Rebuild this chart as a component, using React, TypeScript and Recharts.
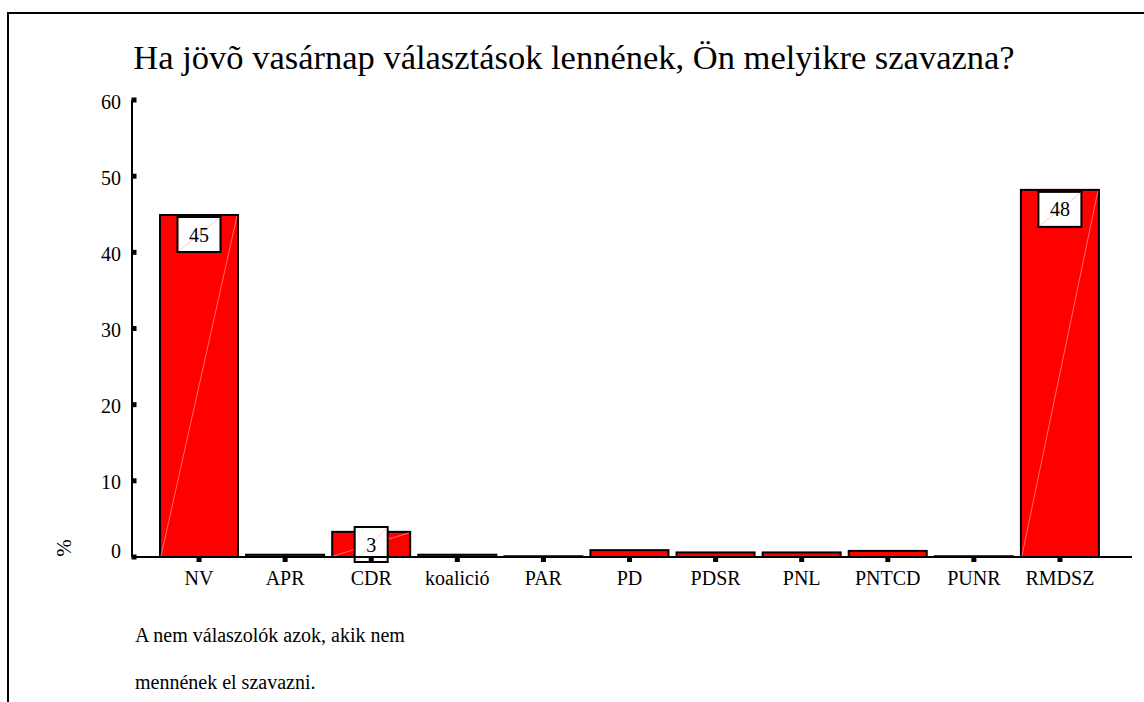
import React from "react";
import { BarChart, Bar, XAxis, YAxis } from "recharts";

const categories = ["NV", "APR", "CDR", "koalició", "PAR", "PD", "PDSR", "PNL", "PNTCD", "PUNR", "RMDSZ"];
const percentValues = [44.9, 0.3, 3.3, 0.3, 0.1, 0.9, 0.6, 0.6, 0.8, 0.1, 48.2];
const barLabels = ["45", "", "3", "", "", "", "", "", "", "", "48"];
const yTicks = [0, 10, 20, 30, 40, 50, 60];

const titleText = "Ha jövõ vasárnap választások lennének, Ön melyikre szavazna?";
const noteLines = ["A nem válaszolók azok, akik nem", "mennének el szavazni."];

const data = categories.map((c, i) => ({ name: c, value: percentValues[i], label: barLabels[i] }));

const FONT = "'Liberation Serif', 'Times New Roman', serif";

const BarShape = (props: any) => {
  const { x, y, width, height, payload } = props;
  const h = Math.max(height, 0.5);
  const label: string = payload?.label ?? "";
  const cx = x + width / 2;
  const bottom = y + h;
  const bw = 10 * label.length + 23;
  const bh = 35;
  const by = Math.min(y + 2, bottom - 30);
  return (
    <g>
      <rect x={x} y={y} width={width} height={h} fill="#ff0000" stroke="#000" strokeWidth={2} />
      {h > 10 && (
        <line x1={x + 1} y1={bottom - 1} x2={x + width - 1} y2={y + 1} stroke="#ff9c9c" strokeWidth={0.7} />
      )}
      {label && (
        <g>
          <rect x={cx - bw / 2} y={by} width={bw} height={bh} fill="#fff" stroke="#000" strokeWidth={2} />
          <line x1={cx - bw / 2 + 1} y1={by + bh - 1} x2={cx + bw / 2 - 1} y2={by + 1} stroke="#ffb0b0" strokeWidth={0.7} />
          <text x={cx} y={by + bh / 2 + 7} textAnchor="middle" fontFamily={FONT} fontSize={20} fill="#000">
            {label}
          </text>
        </g>
      )}
    </g>
  );
};

const XTick = (props: any) => {
  const { x, y, payload } = props;
  return (
    <g>
      <rect x={x - 2.5} y={y - 8} width={5} height={5} fill="#000" />
      <text x={x} y={y + 20} textAnchor="middle" fontFamily={FONT} fontSize={20} fill="#000">
        {payload.value}
      </text>
    </g>
  );
};

const YTick = (props: any) => {
  const { x, y, payload } = props;
  const dy = payload.value === 0 ? -8 : 0;
  return (
    <g>
      <rect x={x + 7.5} y={y - 2.5} width={5} height={5} fill="#000" />
      <text x={x - 3} y={y + 8.5 + dy} textAnchor="end" fontFamily={FONT} fontSize={20} fill="#000">
        {payload.value}
      </text>
    </g>
  );
};

export default function App() {
  return (
    <div style={{ position: "absolute", left: 0, top: 0, width: 1144, height: 702, background: "#fff", overflow: "hidden" }}>
      <div
        style={{
          position: "absolute",
          left: 7,
          top: 12,
          width: 1200,
          height: 800,
          borderTop: "2px solid #000",
          borderLeft: "2px solid #000",
          boxSizing: "border-box",
        }}
      />
      <div
        style={{
          position: "absolute",
          left: 0,
          width: 1144,
          top: 37,
          textAlign: "center",
          fontFamily: FONT,
          fontSize: 34.5,
          lineHeight: "40px",
          color: "#000",
          paddingLeft: 2,
          whiteSpace: "nowrap",
        }}
      >
        {titleText}
      </div>
      <div
        style={{
          position: "absolute",
          left: 49,
          top: 536,
          width: 30,
          height: 24,
          fontFamily: FONT,
          fontSize: 21,
          transform: "rotate(-90deg)",
          textAlign: "center",
          lineHeight: "24px",
        }}
      >
        %
      </div>
      <div style={{ position: "absolute", left: 0, top: 0 }}>
        <BarChart width={1144} height={702} data={data} margin={{ top: 100, right: 12, bottom: 115, left: 72 }} barSize={78}>
          <XAxis
            dataKey="name"
            interval={0}
            padding={{ left: 24, right: 29 }}
            axisLine={{ stroke: "#000", strokeWidth: 2 }}
            tickLine={false}
            tick={<XTick />}
            height={30}
          />
          <YAxis
            domain={[0, 60]}
            ticks={yTicks}
            interval={0}
            width={60}
            axisLine={{ stroke: "#000", strokeWidth: 2 }}
            tickLine={false}
            tick={<YTick />}
          />
          <Bar dataKey="value" shape={<BarShape />} isAnimationActive={false} />
        </BarChart>
      </div>
      {noteLines.map((line, i) => (
        <div
          key={i}
          style={{
            position: "absolute",
            left: 135,
            top: 623 + i * 47,
            fontFamily: FONT,
            fontSize: 20,
            lineHeight: "24px",
            color: "#000",
            whiteSpace: "nowrap",
          }}
        >
          {line}
        </div>
      ))}
    </div>
  );
}
